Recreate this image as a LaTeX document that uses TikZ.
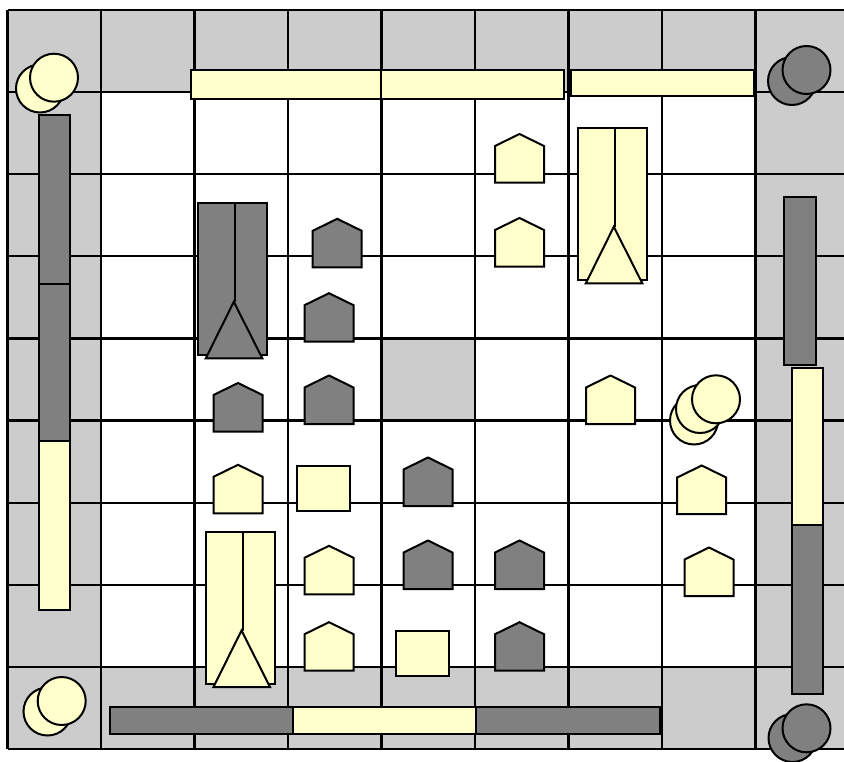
\documentclass[tikz,border=0pt]{standalone}
\usetikzlibrary{calc}
\definecolor{boardgray}{HTML}{CCCCCC}
\definecolor{pcyellow}{HTML}{FFFFCC}
\definecolor{pcgray}{HTML}{808080}
\tikzset{
  gridline/.style={line width=2.2pt, black},
  ypiece/.style={fill=pcyellow, draw=black, line width=2pt, line join=miter},
  gpiece/.style={fill=pcgray, draw=black, line width=2pt, line join=miter},
}
% pentagon: style, center x, bottom y
\newcommand{\pentpc}[3]{\draw[#1] (#2-24.5,#3) -- ++(49,0) -- ++(0,-36.5) -- ++(-24.5,-12) -- ++(-24.5,12) -- cycle;}
% tall piece: style, left x, top y
\newcommand{\tallpc}[3]{%
  \draw[#1] (#2,#3) rectangle ++(69,152);
  \draw[#1] (#2+7.5,#3+155) -- (#2+35.5,#3+98.5) -- (#2+64,#3+155) -- cycle;
  \draw[black, line width=2pt] (#2+36.5,#3) -- (#2+36.5,#3+98.5);}
\newcommand{\sqpc}[3]{\draw[#1] (#2,#3) rectangle ++(53,45);}
\begin{document}
\begin{tikzpicture}[x=1pt,y=-1pt]
\useasboundingbox (0,0) rectangle (844,761);
\fill[white] (0,0) rectangle (844,761);
% board
\fill[boardgray] (7.5,10) rectangle (849,748.9);
\fill[white] (101,92.1) rectangle (755.5,666.8);
\fill[boardgray] (381.5,338.4) rectangle (475,420.5);
\foreach \i in {0,...,9} {
  \draw[gridline] (7.5+93.5*\i,10) -- (7.5+93.5*\i,748.9);
  \draw[gridline] (7.5,10+82.1*\i) -- (849,10+82.1*\i);
}
% top bars
\draw[ypiece] (191,69.5) rectangle (381,99);
\draw[ypiece] (381,69.5) rectangle (563.5,99);
\draw[ypiece] (571,69.5) rectangle (754,96);
% left bars
\draw[gpiece] (38.5,115) rectangle (70,283.5);
\draw[gpiece] (38.5,283.5) rectangle (70,441);
\draw[ypiece] (38.5,441) rectangle (70,610);
% right bars
\draw[gpiece] (783.5,196.5) rectangle (815.5,364.5);
\draw[ypiece] (791.5,368) rectangle (822.5,525);
\draw[gpiece] (791.5,525) rectangle (822.5,694);
% bottom bars
\draw[gpiece] (110,707) rectangle (293,734);
\draw[ypiece] (293,707) rectangle (476,734);
\draw[gpiece] (476,707) rectangle (659.5,734);
% circles
\draw[ypiece] (40,88.5) circle (24);
\draw[ypiece] (54,77.7) circle (24);
\draw[gpiece] (792,81) circle (24);
\draw[gpiece] (806.5,70) circle (24);
\draw[ypiece] (47.5,711.5) circle (24);
\draw[ypiece] (61.7,701) circle (24);
\draw[gpiece] (792.5,738) circle (24);
\draw[gpiece] (806.5,728.3) circle (24);
\draw[ypiece] (694,420.5) circle (24);
\draw[ypiece] (700,409) circle (24);
\draw[ypiece] (716,399.3) circle (24);
% tall pieces
\tallpc{gpiece}{198.3}{203.3}
\tallpc{ypiece}{578.3}{128.3}
\tallpc{ypiece}{206}{532}
% yellow pentagons
\pentpc{ypiece}{519.5}{182.5}
\pentpc{ypiece}{519.5}{266.5}
\pentpc{ypiece}{610.5}{424}
\pentpc{ypiece}{701.7}{514}
\pentpc{ypiece}{709}{596}
\pentpc{ypiece}{238}{513.3}
\pentpc{ypiece}{329}{594.3}
\pentpc{ypiece}{329}{670.7}
% gray pentagons
\pentpc{gpiece}{337.2}{267.3}
\pentpc{gpiece}{329}{341.7}
\pentpc{gpiece}{238}{431.5}
\pentpc{gpiece}{329}{424}
\pentpc{gpiece}{428}{506}
\pentpc{gpiece}{428}{589}
\pentpc{gpiece}{519.5}{589}
\pentpc{gpiece}{519.5}{670.7}
% squares
\sqpc{ypiece}{297.3}{466}
\sqpc{ypiece}{396}{630.5}
\end{tikzpicture}
\end{document}
